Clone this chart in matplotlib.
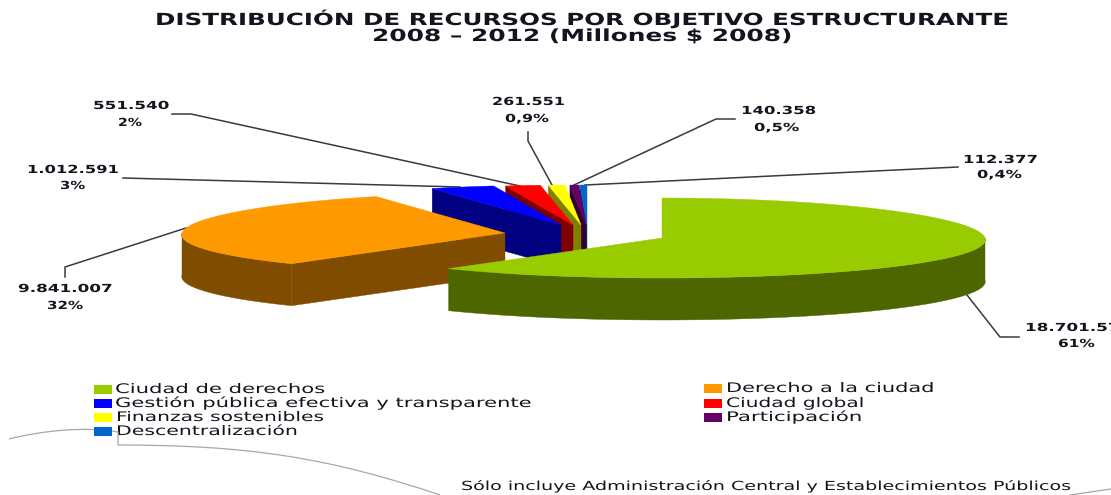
"""Distribucion de recursos por objetivo estructurante: torta 3D separada."""
import matplotlib
matplotlib.use("Agg")
import matplotlib.patheffects as pe
import matplotlib.pyplot as plt
import numpy as np
from matplotlib.patches import PathPatch, Polygon, Rectangle
from matplotlib.path import Path
from matplotlib.transforms import Affine2D

categories = [
    "Ciudad de derechos", "Derecho a la ciudad",
    "Gestión pública efectiva y transparente", "Ciudad global",
    "Finanzas sostenibles", "Participación", "Descentralización",
]
values = [18701575, 9841007, 1012591, 551540, 261551, 140358, 112377]
value_labels = ["18.701.575", "9.841.007", "1.012.591", "551.540", "261.551", "140.358", "112.377"]
pct_labels = ["61%", "32%", "3%", "2%", "0,9%", "0,5%", "0,4%"]

top_colors = ["#99CC00", "#FF9900", "#0000FF", "#FF0000", "#FFFF00", "#660066", "#0066CC"]
side_colors = ["#4D6600", "#804D00", "#000080", "#800000", "#808000", "#330033", "#003366"]

# layout en pixeles de la imagen (eje y hacia abajo)
RX, RY, DEPTH, PERSP = 323, 40, 42, 0.04
centers = [(662, 238), (505, 233), (561, 225), (573, 225), (581, 225), (586, 225), (587, 225)]
draw_order = [6, 5, 4, 3, 2, 1, 0]

# (x0, x1, base) del valor y del porcentaje
value_pos = [(1025, 1131, 331), (18, 113, 292), (27, 119, 173), (93, 169, 109),
             (492, 565, 105), (741, 816, 114), (963, 1038, 163)]
pct_pos = [(1058, 1095, 347), (47, 83, 309), (60, 85, 189), (118, 142, 126),
           (505, 549, 122), (754, 799, 131), (977, 1022, 178)]
leaders = [
    [(1019, 337), (1000, 337), (967, 295)],
    [(65, 277), (65, 267), (186, 228)],
    [(123, 178), (460, 187)],
    [(172, 114), (191, 114), (520, 186)],
    [(528, 132), (528, 141), (552, 185)],
    [(735, 119), (716, 119), (574, 185)],
    [(958, 167), (585, 185)],
]
# swatch x, texto x0, x1, base, por categoria
legend_pos = [(94, 115, 328, 393), (704, 726, 937, 392), (94, 115, 537, 407), (704, 726, 866, 407),
              (94, 116, 326, 421), (704, 726, 864, 421), (94, 116, 300, 435)]


class Stretch(pe.AbstractPathEffect):
    """Estira el texto en horizontal, como en la imagen original."""

    def __init__(self, sx):
        super().__init__()
        self.sx = sx

    def draw_path(self, renderer, gc, tpath, affine, rgbFace=None):
        renderer.draw_path(gc, tpath, Affine2D().scale(self.sx, 1) + affine, rgbFace)


def arc_points(center, a0, a1):
    """Puntos del borde de la elipse, angulos en grados desde las 12 en sentido horario."""
    t = np.radians(np.linspace(a0, a1, max(int(abs(a1 - a0)) * 2, 2)))
    dx, dy = RX * np.sin(t), -RY * np.cos(t)
    return np.column_stack([center[0] + dx * (1 + PERSP * dy / RY), center[1] + dy])


def put_text(ax, renderer, s, x0, x1, base, size, weight="normal"):
    t = ax.text(x0, base, s, fontsize=size, fontweight=weight, family="DejaVu Sans",
                color="#14141e", ha="left", va="baseline")
    width = t.get_window_extent(renderer).width
    t.set_path_effects([Stretch((x1 - x0) / width)])
    return t


fig = plt.figure(figsize=(11.11, 4.95), dpi=100)
ax = fig.add_axes([0, 0, 1, 1])
ax.set_xlim(0, 1111)
ax.set_ylim(495, 0)
ax.axis("off")
renderer = fig.canvas.get_renderer()

edges = np.concatenate([[0], np.cumsum(values) / np.sum(values) * 360])

# lineas guia detras de la torta
for pts in leaders:
    xs, ys = zip(*pts)
    ax.plot(xs, ys, color="#3a3a3a", linewidth=1.1, zorder=1)

z = 2
for i in draw_order:
    a0, a1 = edges[i], edges[i + 1]
    c = centers[i]
    arc = arc_points(c, a0, a1)
    down = np.array([0, DEPTH])
    if i > 0:
        # cara radial visible
        wall = np.array([arc[0], c, np.array(c) + down, arc[0] + down])
        ax.add_patch(Polygon(wall, closed=True, fc=side_colors[i], ec=side_colors[i], lw=0.3, zorder=z))
    lo, hi = max(a0, 90), min(a1, 270)
    if lo < hi:
        front = arc_points(c, lo, hi)
        shell = np.vstack([front, (front + down)[::-1]])
        ax.add_patch(Polygon(shell, closed=True, fc=side_colors[i], ec=side_colors[i], lw=0.3, zorder=z))
    top = np.vstack([[c], arc])
    ax.add_patch(Polygon(top, closed=True, fc=top_colors[i], ec=top_colors[i], lw=0.3, zorder=z + 0.5))
    z += 1

for i in range(len(values)):
    x0, x1, base = value_pos[i]
    put_text(ax, renderer, value_labels[i], x0, x1, base, 8, "bold")
    x0, x1, base = pct_pos[i]
    put_text(ax, renderer, pct_labels[i], x0, x1, base, 8, "bold")

put_text(ax, renderer, "DISTRIBUCIÓN DE RECURSOS POR OBJETIVO ESTRUCTURANTE", 155, 1007, 25, 12, "bold")
put_text(ax, renderer, "2008 – 2012 (Millones $ 2008)", 372, 790, 41, 12, "bold")

for i, name in enumerate(categories):
    sx, x0, x1, base = legend_pos[i]
    ax.add_patch(Rectangle((sx, base - 8), 18, 9, fc=top_colors[i], ec="none", zorder=20))
    put_text(ax, renderer, name, x0, x1, base, 9.5)

put_text(ax, renderer, "Sólo incluye Administración Central y Establecimientos Públicos",
         461, 1072, 490, 9)

# trazos grises del fondo de la diapositiva
gray = dict(fc="none", ec="#a8a8a8", lw=0.9, zorder=10)
ax.add_patch(PathPatch(Path(
    [(9, 439), (40, 431), (85, 426), (118, 432), (118, 445), (250, 445), (330, 458), (440, 495)],
    [Path.MOVETO, Path.CURVE4, Path.CURVE4, Path.CURVE4, Path.LINETO, Path.CURVE4, Path.CURVE4, Path.CURVE4],
), **gray))
ax.plot([1070, 1111], [495, 489], color="#a8a8a8", linewidth=0.9, zorder=10)

fig.savefig("out.png", dpi=100)
plt.close(fig)
